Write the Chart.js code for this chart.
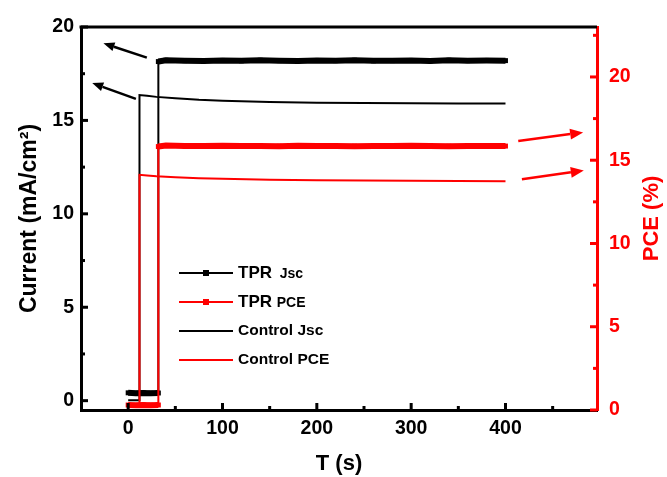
<!DOCTYPE html>
<html>
<head>
<meta charset="utf-8">
<script src="https://cdn.jsdelivr.net/npm/chart.js@4/dist/chart.umd.min.js"></script>
<style>
  html, body { margin: 0; padding: 0; background: #fff; }
  #wrap { width: 667px; height: 477px; }
</style>
</head>
<body>
<div id="wrap"><canvas id="c" width="667" height="477"></canvas></div>
<script>
// Time axis (s) and measured values
const tprTime  = [0, 8, 16, 24, 32, 32, 40, 60, 80, 100, 120, 140, 160, 180, 200, 220, 240, 260, 280, 300, 320, 340, 360, 380, 400];
const tprJsc   = [0.42, 0.40, 0.41, 0.40, 0.41, 18.15, 18.22, 18.20, 18.18, 18.21, 18.19, 18.22, 18.20, 18.18, 18.21, 18.20, 18.22, 18.19, 18.20, 18.21, 18.18, 18.22, 18.20, 18.21, 18.20];
const tprPce   = [0.30, 0.28, 0.30, 0.29, 0.30, 15.82, 15.88, 15.86, 15.85, 15.87, 15.85, 15.86, 15.84, 15.87, 15.85, 15.86, 15.84, 15.86, 15.85, 15.87, 15.85, 15.84, 15.86, 15.85, 15.85];
const ctrlTime = [0, 6, 12, 12, 20, 30, 50, 75, 100, 150, 200, 250, 300, 350, 400];
const ctrlJsc  = [0.02, 0.02, 0.02, 16.36, 16.32, 16.26, 16.18, 16.10, 16.05, 15.98, 15.95, 15.93, 15.92, 15.91, 15.90];
const ctrlPce  = [0.20, 0.20, 0.20, 14.12, 14.08, 14.03, 13.98, 13.92, 13.88, 13.83, 13.80, 13.78, 13.76, 13.75, 13.74];

// Axis ticks
const xMajorTicks   = [0, 100, 200, 300, 400];
const xMinorTicks   = [50, 150, 250, 350, 450];
const jscMajorTicks = [0, 5, 10, 15, 20];
const jscMinorTicks = [2.5, 7.5, 12.5, 17.5];
const pceMajorTicks = [0, 5, 10, 15, 20];
const pceMinorTicks = [2.5, 7.5, 12.5, 17.5, 22.5];

// Legend entries
const legendMain = ['TPR', 'TPR', 'Control Jsc', 'Control PCE'];
const legendSub  = ['Jsc', 'PCE', '', ''];

// Guide arrows in data units: [x, y] tail -> head, on the Jsc (y) or PCE (y1) axis
const arrowNotes = [
  { axis: 'y',  from: [19.8, 18.36],  to: [-26.2, 19.13] },
  { axis: 'y',  from: [8.2, 16.15],   to: [-38.1, 17.0] },
  { axis: 'y1', from: [413.5, 16.16], to: [482.3, 16.67] },
  { axis: 'y1', from: [417.4, 13.86], to: [483.0, 14.38] }
];

const RED = '#ff0000';
const BLACK = '#000000';
const FONT = '"Liberation Sans", Arial, sans-serif';

const pts = (xs, ys) => xs.map((x, i) => ({ x, y: ys[i] }));
const stepWidth = (thick, thin) => ctx => (ctx.p0.parsed.x === ctx.p1.parsed.x ? thin : thick);

const tickMarks = {
  id: 'tickMarks',
  afterDatasetsDraw(chart) {
    const { ctx, chartArea: a, scales } = chart;
    ctx.save();
    ctx.lineCap = 'butt';
    // top frame line
    ctx.strokeStyle = BLACK; ctx.lineWidth = 3;
    ctx.beginPath(); ctx.moveTo(a.left - 1.5, a.top); ctx.lineTo(a.right, a.top); ctx.stroke();
    const draw = (vals, scale, len, color, side) => {
      ctx.strokeStyle = color; ctx.lineWidth = 3;
      vals.forEach(v => {
        const p = scale.getPixelForValue(v);
        ctx.beginPath();
        if (side === 'bottom') { ctx.moveTo(p, a.bottom); ctx.lineTo(p, a.bottom - len); }
        else if (side === 'left') { ctx.moveTo(a.left, p); ctx.lineTo(a.left + len, p); }
        else { ctx.moveTo(a.right, p); ctx.lineTo(a.right - len, p); }
        ctx.stroke();
      });
    };
    draw(xMajorTicks, scales.x, 7, BLACK, 'bottom');
    draw(xMinorTicks, scales.x, 4, BLACK, 'bottom');
    draw(jscMajorTicks, scales.y, 7, BLACK, 'left');
    draw(jscMinorTicks, scales.y, 4, BLACK, 'left');
    draw(pceMajorTicks, scales.y1, 7, RED, 'right');
    draw(pceMinorTicks, scales.y1, 4, RED, 'right');
    ctx.restore();
  }
};

const arrows = {
  id: 'arrows',
  afterDatasetsDraw(chart) {
    const { ctx, scales } = chart;
    ctx.save();
    arrowNotes.forEach(n => {
      const ys = scales[n.axis];
      const color = n.axis === 'y' ? BLACK : RED;
      const x0 = scales.x.getPixelForValue(n.from[0]), y0 = ys.getPixelForValue(n.from[1]);
      const x1 = scales.x.getPixelForValue(n.to[0]),   y1 = ys.getPixelForValue(n.to[1]);
      const ang = Math.atan2(y1 - y0, x1 - x0);
      const hl = n.axis === 'y' ? 11 : 13, hw = n.axis === 'y' ? 4.5 : 5.5;
      const bx = x1 - hl * Math.cos(ang), by = y1 - hl * Math.sin(ang);
      ctx.strokeStyle = color; ctx.fillStyle = color; ctx.lineWidth = 2.5;
      ctx.beginPath(); ctx.moveTo(x0, y0); ctx.lineTo(bx, by); ctx.stroke();
      ctx.beginPath();
      ctx.moveTo(x1, y1);
      ctx.lineTo(bx + hw * Math.sin(ang), by - hw * Math.cos(ang));
      ctx.lineTo(bx - hw * Math.sin(ang), by + hw * Math.cos(ang));
      ctx.closePath(); ctx.fill();
    });
    ctx.restore();
  }
};

const legendBox = {
  id: 'legendBox',
  afterDatasetsDraw(chart) {
    const { ctx, chartArea: a } = chart;
    const colors = [BLACK, RED, BLACK, RED];
    const markers = [true, true, false, false];
    const x0 = a.left + 98, x1 = a.left + 152, tx = a.left + 157;
    ctx.save();
    legendMain.forEach((label, i) => {
      const y = a.top + 246 + i * 29;
      ctx.strokeStyle = colors[i]; ctx.lineWidth = 2;
      ctx.beginPath(); ctx.moveTo(x0, y); ctx.lineTo(x1, y); ctx.stroke();
      if (markers[i]) {
        ctx.fillStyle = colors[i];
        ctx.fillRect((x0 + x1) / 2 - 3, y - 3, 6, 6);
      }
      ctx.fillStyle = BLACK;
      ctx.textBaseline = 'middle';
      ctx.textAlign = 'left';
      if (legendSub[i]) {
        ctx.font = 'bold 17px ' + FONT;
        ctx.fillText(label, tx, y);
        const w = ctx.measureText(label + ' ').width;
        ctx.font = 'bold 14px ' + FONT;
        ctx.fillText(legendSub[i], tx + w + (i === 0 ? 3 : 0), y + 1);
      } else {
        ctx.font = 'bold 15.5px ' + FONT;
        ctx.fillText(label, tx, y);
      }
    });
    // right axis title, reading bottom to top
    ctx.save();
    ctx.translate(652, (a.top + a.bottom) / 2);
    ctx.rotate(-Math.PI / 2);
    ctx.fillStyle = RED;
    ctx.font = 'bold 22px ' + FONT;
    ctx.textAlign = 'center';
    ctx.textBaseline = 'middle';
    ctx.fillText('PCE (%)', 0, 0);
    ctx.restore();
    ctx.restore();
  }
};

new Chart(document.getElementById('c'), {
  type: 'line',
  data: {
    datasets: [
      {
        label: 'TPR PCE', data: pts(tprTime, tprPce), yAxisID: 'y1',
        borderColor: RED, backgroundColor: RED,
        segment: { borderWidth: stepWidth(6, 2) },
        pointStyle: 'rect', pointRadius: 3.5, pointBorderWidth: 0, pointBackgroundColor: RED
      },
      {
        label: 'Control PCE', data: pts(ctrlTime, ctrlPce), yAxisID: 'y1',
        borderColor: RED, borderWidth: 2, pointRadius: 0
      },
      {
        label: 'TPR Jsc', data: pts(tprTime, tprJsc), yAxisID: 'y',
        borderColor: BLACK, backgroundColor: BLACK,
        segment: { borderWidth: stepWidth(6, 2) },
        pointStyle: 'rect', pointRadius: 3.5, pointBorderWidth: 0, pointBackgroundColor: BLACK
      },
      {
        label: 'Control Jsc', data: pts(ctrlTime, ctrlJsc), yAxisID: 'y',
        borderColor: BLACK, borderWidth: 2, pointRadius: 0
      }
    ]
  },
  options: {
    responsive: false,
    animation: false,
    devicePixelRatio: 1,
    layout: { padding: { top: 27, left: 0, right: 0, bottom: 0 } },
    plugins: { legend: { display: false }, tooltip: { enabled: false } },
    elements: { line: { tension: 0 } },
    scales: {
      x: {
        type: 'linear', position: 'bottom', min: -50, max: 497,
        ticks: { stepSize: 100, includeBounds: false, color: BLACK, padding: 7,
                 font: { family: FONT, size: 19.5, weight: 'bold' } },
        grid: { display: false, drawTicks: false },
        border: { display: true, color: BLACK, width: 3 },
        title: { display: true, text: 'T (s)', color: BLACK, padding: { top: 0, bottom: 0 },
                 font: { family: FONT, size: 22, weight: 'bold' } },
        afterFit: s => { s.height = 67; }
      },
      y: {
        type: 'linear', position: 'left', min: -0.5, max: 20,
        ticks: { stepSize: 5, includeBounds: false, color: BLACK, padding: 7,
                 font: { family: FONT, size: 19.5, weight: 'bold' } },
        grid: { display: false, drawTicks: false },
        border: { display: true, color: BLACK, width: 3 },
        title: { display: true, text: 'Current (mA/cm²)', color: BLACK, padding: { top: 16, bottom: 0 },
                 font: { family: FONT, size: 23, weight: 'bold' } },
        afterFit: s => { s.width = 81; }
      },
      y1: {
        type: 'linear', position: 'right', min: 0, max: 23,
        ticks: { stepSize: 5, includeBounds: false, color: RED, padding: 12,
                 font: { family: FONT, size: 19.5, weight: 'bold' } },
        grid: { display: false, drawTicks: false },
        border: { display: true, color: RED, width: 3 },
        afterFit: s => { s.width = 70; }
      }
    }
  },
  plugins: [tickMarks, arrows, legendBox]
});
</script>
</body>
</html>
